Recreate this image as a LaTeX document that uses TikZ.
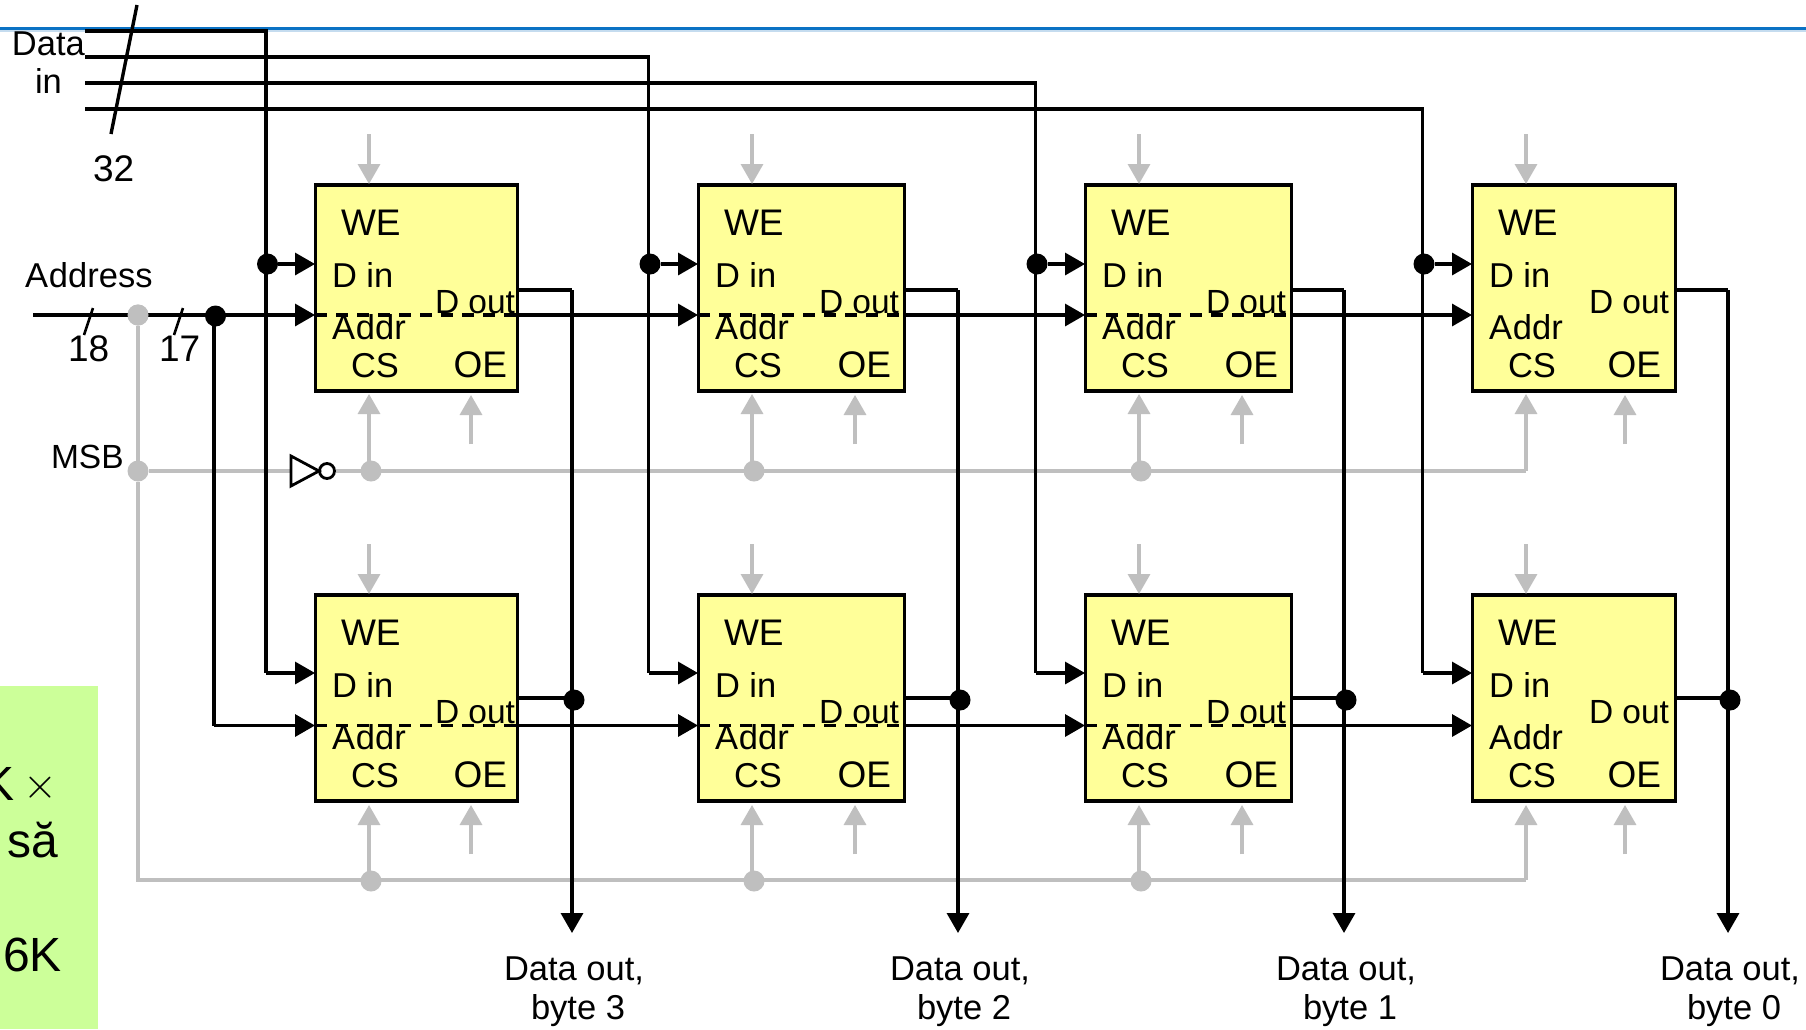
\documentclass[tikz,border=0pt]{standalone}
\usepackage{fontspec}
\usepackage{graphicx}
\setmainfont{Liberation Sans}
\usetikzlibrary{arrows.meta}
\definecolor{memyellow}{HTML}{FFFF99}
\definecolor{notegreen}{HTML}{CCFF99}
\definecolor{ctrlgrey}{HTML}{BFBFBF}
\definecolor{ruleblue}{HTML}{0B72C4}
\definecolor{rulepale}{HTML}{C5DCEF}
\tikzset{
  wire/.style={draw=black,line width=3.4pt,line join=miter},
  ctrl/.style={draw=ctrlgrey,line width=3.4pt},
  ptip/.style={-{Triangle[length=20pt,width=22pt]}},
  membox/.style={draw=black,fill=memyellow,line width=3.5pt,rectangle,anchor=north west,outer sep=0pt,inner sep=0pt},
  lab/.style={inner sep=0pt,outer sep=0pt,font=\fontsize{34.5}{38}\selectfont},
  biglab/.style={inner sep=0pt,outer sep=0pt,anchor=base west,font=\fontsize{37}{40}\selectfont},
  bwlab/.style={lab,anchor=base west},
  bclab/.style={lab,anchor=base},
  outlab/.style={bwlab,font=\fontsize{33.5}{38}\selectfont},
  notelab/.style={inner sep=0pt,outer sep=0pt,anchor=base east,font=\fontsize{48}{52}\selectfont},
  blackdot/.style={circle,fill=black,minimum size=21pt,inner sep=0pt,outer sep=0pt},
  greydot/.style={circle,fill=ctrlgrey,minimum size=21pt,inner sep=0pt,outer sep=0pt},
  dashwire/.style={draw=black,line width=3.4pt,dash pattern=on 12pt off 9pt},
}
\begin{document}
\begin{tikzpicture}[x=1pt,y=-1pt]
\useasboundingbox (0,0) rectangle (1806,1029);
\clip (0,0) rectangle (1806,1029);
\fill[white] (0,0) rectangle (1806,1029);
% note panel
\fill[notegreen] (0,686) rectangle (98,1029);
\node[notelab] (noteA) at (15,800) {K};
\node[inner sep=0pt,outer sep=0pt,font=\fontsize{48}{52}\selectfont] (noteX) at (40,788) {\scalebox{1.75}{$\times$}};
\node[notelab] (noteB) at (58,857) {să};
\node[notelab] (noteC) at (62,971) {6K};
% rule
\coordinate (ruleL) at (0,28);
\coordinate (ruleR) at (1806,28);
\draw[rulepale,line width=2pt] ([yshift=-2.5pt]ruleL) -- ([yshift=-2.5pt]ruleR);
\draw[ruleblue,line width=3pt] (ruleL) -- (ruleR);
% grey control network
\node[greydot] (gaddr) at (138,315) {};
\node[greydot] (gmsb) at (138,471) {};
\coordinate (gbl) at (138,880);
\coordinate (gbr) at (1526,880);
\coordinate (gtr) at (1526,471);
\coordinate (gcsB) at (1526,394);
\coordinate (gcsC) at (1526,805);
\coordinate (invW) at (291,471);
\node[inner sep=0pt,minimum size=15pt,circle,draw=black,line width=2.8pt,fill=white] (invo) at (327,471) {};
\draw[ctrl] (gaddr) -- (gmsb);
\draw[ctrl] (gmsb) -- (invW);
\draw[ctrl] (invo) -- (gtr);
\draw[ctrl,ptip] (gtr) -- (gcsB);
\draw[ctrl] (gmsb) -- (gbl) -- (gbr);
\draw[ctrl,ptip] (gbr) -- (gcsC);
\coordinate (inva) at (291,456);
\coordinate (invb) at (291,486);
\coordinate (invt) at (319,471);
\draw[black,fill=white,line width=2.8pt] (inva) -- (invt) -- (invb) -- cycle;
% labels at left
\node[bwlab] (ldata) at (12,55) {Data};
\node[bwlab] (lin) at (35,93) {in};
\node[biglab] (l32) at (93,181) {32};
\node[bwlab] (laddr) at (25,287) {A\kern1pt ddress};
\node[biglab] (l18) at (68,361) {18};
\node[biglab] (l17) at (159,361) {17};
\node[outlab] (lmsb) at (51,468) {MSB};
% memory columns
\foreach \c/\L/\R/\cs/\oe/\dv/\dq/\oex/\dy/\tail in {
  1/315/518/369/471/266/572/140/31/3,
  2/698/905/752/855/648.5/958/141/57/2,
  3/1085/1292/1139/1242/1035.5/1344/141/83/1,
  4/1472/1676/1526/1625/1422.5/1728/137/109/0}{
  \pgfmathsetmacro{\W}{\R-\L-1}
  \foreach \r/\T/\ay/\din/\dout in {1/184/315/264/290,2/594/725.5/673/698}{
    \node[membox,minimum width=\W pt,minimum height=206pt] (b\c\r) at (\L+0.5,\T+1) {};
    \node[biglab] (we\c\r) at (\L+26,\T+51) {WE};
    \node[bwlab] (di\c\r) at (\L+17,\T+103) {D in};
    \node[bwlab] (ad\c\r) at (\L+17,\T+155) {A\kern1pt ddr};
    \node[bwlab] (cs\c\r) at (\L+36,\T+193) {CS};
    \node[biglab] (oe\c\r) at (\L+\oex-1.5,\T+193) {OE};
    \node[outlab] (do\c\r) at (\L+\oex-20,\T+129) {D out};
    % named pins
    \coordinate (addr\c\r) at (\L,\ay);
    \coordinate (addo\c\r) at (\R,\ay);
    \coordinate (din\c\r) at (\L,\din);
    \coordinate (dout\c\r) at (\R,\dout);
    \coordinate (dqr\c\r) at (\dq,\dout);
    % grey top and OE arrows
    \coordinate (wes\c\r) at (\cs,\T-50);
    \coordinate (wee\c\r) at (\cs,\T);
    \draw[ctrl,ptip] (wes\c\r) -- (wee\c\r);
    \coordinate (oes\c\r) at (\oe,\T+260);
    \coordinate (oee\c\r) at (\oe,\T+211);
    \draw[ctrl,ptip] (oes\c\r) -- (oee\c\r);
  }
  \ifnum\c<4
    \node[greydot] (gd\c1) at (\cs+2,471) {};
    \node[greydot] (gd\c2) at (\cs+2,881) {};
    \coordinate (csa\c1) at (\cs,471);
    \coordinate (csa\c2) at (\cs,880);
    \coordinate (cst\c1) at (\cs,394);
    \coordinate (cst\c2) at (\cs,805);
    \draw[ctrl,ptip] (csa\c1) -- (cst\c1);
    \draw[ctrl,ptip] (csa\c2) -- (cst\c2);
    \draw[dashwire] (addr\c1) -- (addo\c1);
    \draw[dashwire] (addr\c2) -- (addo\c2);
  \fi
  % data in
  \coordinate (dl\c) at (85,\dy);
  \coordinate (dtop\c) at (\dv,\dy);
  \coordinate (dbot\c) at (\dv,673);
  \draw[wire] (dl\c) -- (dtop\c) -- (dbot\c);
  \draw[wire,ptip] (dbot\c) -- (din\c2);
  \node[blackdot] (dj\c) at (\dv+1.5,264) {};
  \draw[wire,ptip] (dj\c) -- (din\c1);
  % data out
  \coordinate (dqe\c) at (\dq,933);
  \node[blackdot] (dqj\c) at (\dq+2,700) {};
  \draw[wire] (dout\c1) -- (dqr\c1);
  \draw[wire,ptip] (dqr\c1) -- (dqe\c);
  \draw[wire] (dout\c2) -- (dqr\c2);
  \node[bclab] (dol\c) at (\dq+2,980) {Data out,};
  \node[bclab] (byt\c) at (\dq+6,1019) {byte \tail};
}
% address buses
\coordinate (astart) at (33,315);
\node[blackdot] (aj) at (215.5,316) {};
\coordinate (ajb) at (214,316);
\coordinate (acorner) at (214,725.5);
\draw[wire,ptip] (astart) -- (addr11);
\draw[wire] (ajb) -- (acorner);
\draw[wire,ptip] (acorner) -- (addr12);
\node[greydot] at (gaddr) {};
\foreach \c/\n in {1/2,2/3,3/4}{
  \draw[wire,ptip] (addo\c1) -- (addr\n1);
  \draw[wire,ptip] (addo\c2) -- (addr\n2);
}
% bus slashes
\coordinate (s32a) at (137,5);
\coordinate (s32b) at (111,134);
\draw[wire] (s32a) -- (s32b);
\coordinate (s18a) at (93,308);
\coordinate (s18b) at (84,335);
\draw[wire,line width=2.6pt] (s18a) -- (s18b);
\coordinate (s17a) at (183,308);
\coordinate (s17b) at (174,335);
\draw[wire,line width=2.6pt] (s17a) -- (s17b);
\end{tikzpicture}
\end{document}
